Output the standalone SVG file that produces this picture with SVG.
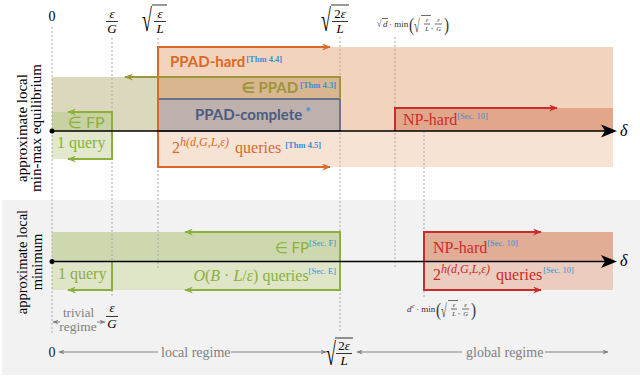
<svg xmlns="http://www.w3.org/2000/svg" width="640" height="377" viewBox="0 0 640 377">
<style>
.serif{font-family:"Liberation Serif","DejaVu Serif",serif;}
.sans{font-family:Lato,"Open Sans","DejaVu Sans",sans-serif;}
.it{font-style:italic;}
.b{font-weight:bold;}
.sup{font-family:"Liberation Serif","DejaVu Serif",serif;font-size:8.5px;fill:#3a8fd6;font-style:normal;}
.dash{stroke:#aaaaaa;stroke-width:1;stroke-dasharray:2 2;fill:none;}
.gray{fill:#808080;}
.grl{stroke:#808080;stroke-width:1;fill:none;}
.bar{stroke:#000;stroke-width:0.8;}
.barg{stroke:#444;stroke-width:0.8;}
</style>
<defs>
<marker id="aO" viewBox="0 0 10 8" refX="9" refY="4" markerWidth="9" markerHeight="7" markerUnits="userSpaceOnUse" orient="auto-start-reverse"><path d="M0,0 L10,4 L0,8 L3,4z" fill="#d9692b"/></marker>
<marker id="aV" viewBox="0 0 10 8" refX="9" refY="4" markerWidth="9" markerHeight="7" markerUnits="userSpaceOnUse" orient="auto-start-reverse"><path d="M0,0 L10,4 L0,8 L3,4z" fill="#9e9439"/></marker>
<marker id="aG" viewBox="0 0 10 8" refX="9" refY="4" markerWidth="9" markerHeight="7" markerUnits="userSpaceOnUse" orient="auto-start-reverse"><path d="M0,0 L10,4 L0,8 L3,4z" fill="#8bb03c"/></marker>
<marker id="aR" viewBox="0 0 10 8" refX="9" refY="4" markerWidth="9" markerHeight="7" markerUnits="userSpaceOnUse" orient="auto-start-reverse"><path d="M0,0 L10,4 L0,8 L3,4z" fill="#cc2b2b"/></marker>
<marker id="aK" viewBox="0 0 10 8" refX="9" refY="4" markerWidth="6" markerHeight="5" markerUnits="userSpaceOnUse" orient="auto-start-reverse"><path d="M0,0 L10,4 L0,8 L3,4z" fill="#808080"/></marker>
</defs>

<rect x="2" y="200" width="638" height="175" fill="#f2f2f2"/>

<g id="fills-top">
<rect x="158" y="47" width="455" height="84" fill="#f2d3bc"/>
<rect x="158" y="131" width="455" height="36" fill="#f6e3d4"/>
<rect x="52" y="77" width="106" height="54" fill="#dcd8be"/>
<rect x="158" y="77" width="182" height="22" fill="#d8b690"/>
<rect x="52" y="112" width="60" height="19" fill="#c7d1a1"/>
<rect x="52" y="131" width="60" height="28" fill="#e1e8cb"/>
<rect x="395" y="108" width="218" height="23" fill="#e2a68b"/>
</g>
<g id="fills-bottom">
<rect x="52" y="232" width="288" height="29" fill="#ced8ae"/>
<rect x="52" y="261" width="288" height="29" fill="#dfe5c7"/>
<rect x="424" y="232" width="189" height="29" fill="#e1ad97"/>
<rect x="424" y="261" width="189" height="29" fill="#ebccbe"/>
</g>

<g id="guides">
<line class="dash" x1="52" y1="27" x2="52" y2="333"/>
<line class="dash" x1="112" y1="38" x2="112" y2="298"/>
<line class="dash" x1="158" y1="38" x2="158" y2="270"/>
<line class="dash" x1="340" y1="37" x2="340" y2="332"/>
<line class="dash" x1="395" y1="37" x2="395" y2="269"/>
<line class="dash" x1="424" y1="127" x2="424" y2="298"/>
</g>

<g id="node-ppad-complete">
<rect x="158" y="99" width="182" height="32" fill="#beb1ad" stroke="#4b5b82" stroke-width="1.5"/>
<text class="sans b" x="195" y="120" font-size="15" fill="#4b5b82">PPAD-complete<tspan dx="3" dy="-3" font-size="13" fill="#3a8fd6">*</tspan></text>
</g>

<g id="connectors">
<path d="M330,47 H158 V167 H330" fill="none" stroke="#d9692b" stroke-width="2" marker-start="url(#aO)" marker-end="url(#aO)"/>
<path d="M125,77 H340 V99" fill="none" stroke="#9e9439" stroke-width="2" marker-start="url(#aV)"/>
<path d="M68,112 H112 V159 H68" fill="none" stroke="#8bb03c" stroke-width="2" marker-start="url(#aG)" marker-end="url(#aG)"/>
<path d="M557,108 H395 V131" fill="none" stroke="#cc2b2b" stroke-width="2" marker-start="url(#aR)"/>
<path d="M185,232 H340 V290 H185" fill="none" stroke="#8bb03c" stroke-width="2" marker-start="url(#aG)" marker-end="url(#aG)"/>
<path d="M112,261 V290 H68" fill="none" stroke="#8bb03c" stroke-width="2" marker-end="url(#aG)"/>
<path d="M541,232 H424 V290 H541" fill="none" stroke="#cc2b2b" stroke-width="2" marker-start="url(#aR)" marker-end="url(#aR)"/>
<line x1="52" y1="131" x2="606" y2="131" stroke="#000" stroke-width="1.5"/>
<path d="M617,131 L601,124.5 L605,131 L601,137.5z" fill="#000"/>
<circle cx="52" cy="131" r="2.5" fill="#000"/>
<line x1="52" y1="261.5" x2="606" y2="261.5" stroke="#000" stroke-width="1.5"/>
<path d="M617,261.5 L601,255 L605,261.5 L601,268z" fill="#000"/>
<circle cx="52" cy="261.5" r="2.5" fill="#000"/>
<path class="grl" d="M60,322 H53" marker-end="url(#aK)"/>
<path class="grl" d="M97,322 H105" marker-end="url(#aK)"/>
<path class="grl" d="M158,352 H59" marker-end="url(#aK)"/>
<path class="grl" d="M231,352 H326" marker-end="url(#aK)"/>
<path class="grl" d="M462,352 H357" marker-end="url(#aK)"/>
<path class="grl" d="M545,352 H608" marker-end="url(#aK)"/>
</g>

<g id="node-ppad-hard">
<text class="sans b" x="170" y="67" font-size="15" fill="#d9692b">PPAD-hard<tspan class="sup b" dx="1" dy="-5">[Thm 4.4]</tspan></text>
</g>
<g id="node-in-ppad">
<text class="sans b" x="336" y="93" font-size="15" fill="#9e9439" text-anchor="end">∈ PPAD<tspan class="sup b" dx="2" dy="-5">[Thm 4.3]</tspan></text>
</g>
<g id="node-queries-top">
<text class="serif" x="172" y="153" font-size="16" fill="#d9692b">2<tspan class="it" font-size="12" dy="-7">h(d,G,L,ε)</tspan><tspan dx="6" dy="7">queries</tspan><tspan class="sup b" dx="4" dy="-5">[Thm 4.5]</tspan></text>
</g>
<g id="node-fp-top">
<text class="sans" x="68" y="128" font-size="16" fill="#8bb03c">∈ FP</text>
<text class="serif" x="57" y="148" font-size="16" fill="#8bb03c">1 query</text>
</g>
<g id="node-nphard-top">
<text class="serif" x="403" y="125" font-size="16" fill="#cc2b2b">NP-hard<tspan class="sup" dy="-6">[Sec. 10]</tspan></text>
</g>

<g id="node-fp-bottom">
<text class="sans" x="336" y="253" font-size="15" fill="#8bb03c" text-anchor="end">∈ FP<tspan class="sup" dy="-7">[Sec. F]</tspan></text>
<text class="serif" x="336" y="281" font-size="16" fill="#8bb03c" text-anchor="end"><tspan class="it">O</tspan>(<tspan class="it">B</tspan> · <tspan class="it">L</tspan>/<tspan class="it">ε</tspan>) queries<tspan class="sup" dy="-7">[Sec. E]</tspan></text>
<text class="serif" x="58" y="279" font-size="16" fill="#8bb03c">1 query</text>
</g>
<g id="node-nphard-bottom">
<text class="serif" x="433" y="253" font-size="16" fill="#cc2b2b">NP-hard<tspan class="sup" dy="-7">[Sec. 10]</tspan></text>
<text class="serif" x="433" y="280" font-size="16" fill="#cc2b2b">2<tspan class="it" font-size="12" dy="-7">h(d,G,L,ε)</tspan><tspan dx="6" dy="7">queries</tspan><tspan class="sup" dx="1" dy="-7">[Sec. 10]</tspan></text>
</g>

<g id="axis-labels">
<text class="serif it" x="620" y="136" font-size="16">δ</text>
<text class="serif it" x="620" y="266" font-size="16">δ</text>
<text class="serif" transform="translate(27,128) rotate(-90)" text-anchor="middle" font-size="15">approximate local</text>
<text class="serif" transform="translate(41,128) rotate(-90)" text-anchor="middle" font-size="15">min-max equilibrium</text>
<text class="serif" transform="translate(27,262) rotate(-90)" text-anchor="middle" font-size="14.5">approximate local</text>
<text class="serif" transform="translate(42,262) rotate(-90)" text-anchor="middle" font-size="14.5">minimum</text>
</g>

<g id="top-ticks" class="serif">
<text x="52" y="21" font-size="14" text-anchor="middle">0</text>
<text class="it" x="112" y="18" font-size="13" text-anchor="middle">ε</text>
<line class="bar" x1="106" y1="21.5" x2="118" y2="21.5"/>
<text class="it" x="112" y="33" font-size="13" text-anchor="middle">G</text>
<text transform="translate(142,31) scale(0.6,1.05)" font-size="30">√</text>
<line class="bar" x1="152" y1="5" x2="167" y2="5"/>
<text class="it" x="160" y="18" font-size="13" text-anchor="middle">ε</text>
<line class="bar" x1="154" y1="21.5" x2="166" y2="21.5"/>
<text class="it" x="160" y="33" font-size="13" text-anchor="middle">L</text>
<text transform="translate(321,31) scale(0.6,1.05)" font-size="30">√</text>
<line class="bar" x1="331" y1="5" x2="349" y2="5"/>
<text x="340" y="18" font-size="13" text-anchor="middle">2<tspan class="it">ε</tspan></text>
<line class="bar" x1="332" y1="21.5" x2="348" y2="21.5"/>
<text class="it" x="340" y="33" font-size="13" text-anchor="middle">L</text>
</g>

<g id="top-small-label" class="serif" fill="#333">
<text transform="translate(377,27) scale(0.8,1)" font-size="10">√</text>
<line class="barg" x1="382" y1="18.5" x2="388" y2="18.5"/>
<text class="it" x="383" y="27" font-size="9">d</text>
<text x="389" y="27" font-size="9">· min</text>
<text transform="translate(409,31) scale(0.8,1)" font-size="19">(</text>
<text transform="translate(414,32) scale(0.55,1)" font-size="19">√</text>
<line class="barg" x1="421" y1="15.5" x2="431" y2="15.5"/>
<text class="it" x="427" y="22" font-size="6.5" text-anchor="middle">ε</text>
<line class="barg" x1="424" y1="24" x2="430" y2="24"/>
<text class="it" x="427" y="31" font-size="6.5" text-anchor="middle">L</text>
<text x="431" y="29" font-size="8">,</text>
<text class="it" x="438.5" y="22" font-size="6.5" text-anchor="middle">ε</text>
<line class="barg" x1="435" y1="24" x2="442" y2="24"/>
<text class="it" x="438.5" y="31" font-size="6.5" text-anchor="middle">G</text>
<text transform="translate(444,31) scale(0.8,1)" font-size="19">)</text>
</g>

<g id="bottom-small-label" class="serif" fill="#333">
<text class="it" x="407" y="312" font-size="9">d</text>
<text class="it" x="412" y="308" font-size="6">c</text>
<text x="416" y="312" font-size="9">· min</text>
<text transform="translate(436,316) scale(0.8,1)" font-size="19">(</text>
<text transform="translate(441,317) scale(0.55,1)" font-size="19">√</text>
<line class="barg" x1="448" y1="300.5" x2="458" y2="300.5"/>
<text class="it" x="454" y="307" font-size="6.5" text-anchor="middle">ε</text>
<line class="barg" x1="451" y1="309" x2="457" y2="309"/>
<text class="it" x="454" y="316" font-size="6.5" text-anchor="middle">L</text>
<text x="458" y="314" font-size="8">,</text>
<text class="it" x="465.5" y="307" font-size="6.5" text-anchor="middle">ε</text>
<line class="barg" x1="462" y1="309" x2="469" y2="309"/>
<text class="it" x="465.5" y="316" font-size="6.5" text-anchor="middle">G</text>
<text transform="translate(471,316) scale(0.8,1)" font-size="19">)</text>
</g>

<g id="regime-labels" class="serif">
<text class="gray" x="78.5" y="317" font-size="13" text-anchor="middle">trivial</text>
<text class="gray" x="78" y="331" font-size="13.5" text-anchor="middle">regime</text>
<text class="it" x="112" y="312" font-size="13" text-anchor="middle">ε</text>
<line class="bar" x1="106" y1="316.5" x2="118" y2="316.5"/>
<text class="it" x="112" y="328" font-size="13" text-anchor="middle">G</text>
<text x="52" y="357" font-size="14" text-anchor="middle" fill="#222">0</text>
<text class="gray" x="161" y="357" font-size="14">local regime</text>
<text class="gray" x="466" y="357" font-size="14">global regime</text>
<text transform="translate(326,365) scale(0.6,1.05)" font-size="30">√</text>
<line class="bar" x1="335" y1="338" x2="353" y2="338"/>
<text x="344" y="350" font-size="13" text-anchor="middle">2<tspan class="it">ε</tspan></text>
<line class="bar" x1="336" y1="353.5" x2="352" y2="353.5"/>
<text class="it" x="344" y="365" font-size="13" text-anchor="middle">L</text>
</g>
</svg>
